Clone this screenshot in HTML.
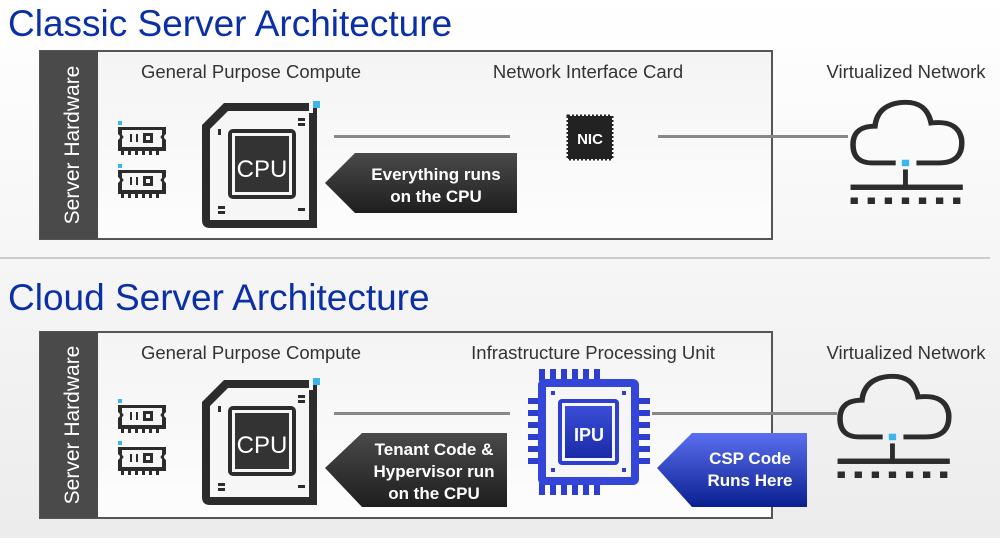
<!DOCTYPE html>
<html><head><style>
html,body{margin:0;padding:0;}
body{width:1000px;height:538px;overflow:hidden;background:linear-gradient(#ffffff,#ececec);font-family:"Liberation Sans",sans-serif;}
</style></head><body>
<svg width="1000" height="538" viewBox="0 0 1000 538" xmlns="http://www.w3.org/2000/svg" font-family="Liberation Sans, sans-serif">
<defs>
<linearGradient id="bg1" x1="0" y1="0" x2="0" y2="1"><stop offset="0" stop-color="#f4f4f4"/><stop offset="1" stop-color="#fdfdfd"/></linearGradient>
<linearGradient id="dk" x1="0" y1="0" x2="0" y2="1"><stop offset="0" stop-color="#4a4a4a"/><stop offset="1" stop-color="#1e1e1e"/></linearGradient>
<linearGradient id="bl" x1="0" y1="0" x2="0" y2="1"><stop offset="0" stop-color="#5b6ff0"/><stop offset="1" stop-color="#0a1f8f"/></linearGradient>
<linearGradient id="blc" x1="0" y1="0" x2="0" y2="1"><stop offset="0" stop-color="#3a4fd8"/><stop offset="1" stop-color="#1a2aa8"/></linearGradient>
<g id="cpu">
<path d="M22 0 H115 V125 H8 Q0 125 0 117 V22 Z" fill="#2c2c2c"/>
<path d="M26 8 H107 V117 H8 V26 Z" fill="#f6f6f6"/>
<rect x="111" y="-2" width="7" height="7" fill="#3cb4ee"/>
<rect x="107" y="0" width="4" height="10" fill="#f6f6f6"/>
<rect x="26" y="26" width="68" height="70" rx="5" fill="#2c2c2c"/>
<rect x="30" y="30" width="60" height="62" fill="#f6f6f6"/>
<rect x="33" y="33" width="54" height="56" fill="#333"/>
<rect x="16" y="26" width="3" height="6" fill="#2c2c2c"/>
<rect x="96" y="15" width="7" height="3" fill="#2c2c2c"/><rect x="96" y="20" width="7" height="3" fill="#2c2c2c"/>
<rect x="16" y="103" width="7" height="3" fill="#2c2c2c"/><rect x="16" y="108" width="7" height="3" fill="#2c2c2c"/>
<rect x="96" y="105" width="7" height="3" fill="#2c2c2c"/>
</g>
<g id="ram">
<rect x="0" y="0" width="4" height="4" fill="#3cb4ee"/>
<path d="M0 6 H48 V13 Q44 16 48 19 V30 H0 V19 Q4 16 0 13 Z" fill="#2c2c2c"/>
<path d="M4 9 H44 V14 Q41 16 44 18 V26 H4 V18 Q7 16 4 14 Z" fill="#f6f6f6"/>
<rect x="12" y="13" width="2" height="8" fill="#2c2c2c"/><rect x="18" y="13" width="2" height="8" fill="#2c2c2c"/>
<rect x="25" y="12" width="10" height="10" fill="#2c2c2c"/><rect x="28" y="15" width="4" height="4" fill="#f6f6f6"/>
<g fill="#2c2c2c"><rect x="3" y="30" width="3" height="4"/><rect x="10" y="30" width="3" height="4"/><rect x="17" y="30" width="3" height="4"/><rect x="24" y="30" width="3" height="4"/><rect x="31" y="30" width="3" height="4"/><rect x="38" y="30" width="3" height="4"/></g>
</g>
<g id="cloud">
<path d="M16 62 Q0 62 0 45 Q0 28 18 28 Q20 8 40 6 Q60 4 64 25 Q86 22 89 40 Q91 62 70 62 H52 M35 62 H16" fill="none" stroke="#2c2c2c" stroke-width="4.5"/>
<rect x="40" y="59" width="6" height="6" fill="#3cb4ee"/>
<rect x="41" y="68" width="4" height="15" fill="#2c2c2c"/>
<rect x="-2" y="82" width="92" height="5" fill="#2c2c2c"/>
<g fill="#2c2c2c"><rect x="-2" y="94" width="6" height="6"/><rect x="12" y="94" width="6" height="6"/><rect x="26" y="94" width="6" height="6"/><rect x="40" y="94" width="6" height="6"/><rect x="54" y="94" width="6" height="6"/><rect x="68" y="94" width="6" height="6"/><rect x="82" y="94" width="6" height="6"/></g>
</g>
</defs>

<text x="8" y="36" font-size="37" fill="#0b2fa6">Classic Server Architecture</text>
<rect x="40" y="51" width="732" height="188" fill="url(#bg1)" stroke="#555" stroke-width="2"/>
<rect x="40" y="51" width="58" height="188" fill="#4a4a4a"/>
<text transform="translate(79,145) rotate(-90)" text-anchor="middle" font-size="21" fill="#fff">Server Hardware</text>
<text x="251" y="78" text-anchor="middle" font-size="18.5" fill="#333">General Purpose Compute</text>
<text x="588" y="78" text-anchor="middle" font-size="18.5" fill="#333">Network Interface Card</text>
<text x="906" y="78" text-anchor="middle" font-size="18.5" fill="#333">Virtualized Network</text>
<use href="#ram" x="118" y="121"/><use href="#ram" x="118" y="164"/>
<use href="#cpu" x="202" y="103"/>
<text x="262" y="177" text-anchor="middle" font-size="24" fill="#fff">CPU</text>
<rect x="334" y="135" width="176" height="3" fill="#888"/>
<rect x="658" y="135" width="190" height="3" fill="#888"/>
<rect x="568" y="116" width="44" height="43" fill="#222" stroke="#222" stroke-dasharray="2 2" stroke-width="3"/>
<text x="590" y="144" text-anchor="middle" font-size="15" font-weight="bold" fill="#fff">NIC</text>
<path d="M325 183 L355 153 H517 V213 H355 Z" fill="url(#dk)"/>
<text x="436" y="180" text-anchor="middle" font-size="17" font-weight="bold" fill="#fff">Everything runs</text>
<text x="436" y="202" text-anchor="middle" font-size="17" font-weight="bold" fill="#fff">on the CPU</text>
<g transform="translate(853,96) scale(1.22,1.08)"><use href="#cloud"/></g>

<rect x="0" y="257" width="990" height="2" fill="#ccc"/>

<text x="8" y="310" font-size="37" fill="#0b2fa6">Cloud Server Architecture</text>
<rect x="40" y="332" width="732" height="186" fill="url(#bg1)" stroke="#555" stroke-width="2"/>
<rect x="40" y="332" width="58" height="186" fill="#4a4a4a"/>
<text transform="translate(79,425) rotate(-90)" text-anchor="middle" font-size="21" fill="#fff">Server Hardware</text>
<text x="251" y="359" text-anchor="middle" font-size="18.5" fill="#333">General Purpose Compute</text>
<text x="593" y="359" text-anchor="middle" font-size="18.5" fill="#333">Infrastructure Processing Unit</text>
<text x="906" y="359" text-anchor="middle" font-size="18.5" fill="#333">Virtualized Network</text>
<use href="#ram" x="118" y="399"/><use href="#ram" x="118" y="441"/>
<use href="#cpu" x="202" y="380"/>
<text x="262" y="453" text-anchor="middle" font-size="24" fill="#fff">CPU</text>
<rect x="334" y="412" width="176" height="3" fill="#888"/>
<rect x="652" y="412" width="185" height="3" fill="#888"/>
<path d="M325 468 L362 433 H507 V507 H362 Z" fill="url(#dk)"/>
<text x="434" y="455" text-anchor="middle" font-size="17" font-weight="bold" fill="#fff">Tenant Code &amp;</text>
<text x="434" y="477" text-anchor="middle" font-size="17" font-weight="bold" fill="#fff">Hypervisor run</text>
<text x="434" y="499" text-anchor="middle" font-size="17" font-weight="bold" fill="#fff">on the CPU</text>
<!-- IPU -->
<g fill="#2d3fd0">
<rect x="539" y="369" width="6" height="12"/><rect x="550" y="369" width="6" height="12"/><rect x="561" y="369" width="6" height="12"/><rect x="572" y="369" width="6" height="12"/><rect x="583" y="369" width="6" height="12"/><rect x="594" y="369" width="6" height="12"/>
<rect x="539" y="483" width="6" height="12"/><rect x="550" y="483" width="6" height="12"/><rect x="561" y="483" width="6" height="12"/><rect x="572" y="483" width="6" height="12"/><rect x="583" y="483" width="6" height="12"/><rect x="594" y="483" width="6" height="12"/>
<rect x="528" y="398" width="12" height="6"/><rect x="528" y="410" width="12" height="6"/><rect x="528" y="422" width="12" height="6"/><rect x="528" y="434" width="12" height="6"/><rect x="528" y="446" width="12" height="6"/><rect x="528" y="458" width="12" height="6"/>
<rect x="638" y="398" width="12" height="6"/><rect x="638" y="410" width="12" height="6"/><rect x="638" y="422" width="12" height="6"/><rect x="638" y="434" width="12" height="6"/><rect x="638" y="446" width="12" height="6"/><rect x="638" y="458" width="12" height="6"/>
</g>
<rect x="538" y="379" width="101" height="106" rx="6" fill="#3346d8"/>
<rect x="546" y="387" width="85" height="90" fill="#f6f6f6"/>
<rect x="558" y="399" width="61" height="66" rx="4" fill="#2d3fd0"/>
<rect x="562" y="403" width="53" height="58" fill="#f6f6f6"/>
<rect x="565" y="406" width="47" height="52" fill="url(#blc)"/>
<g fill="#2d3fd0"><rect x="551" y="391" width="4" height="4"/><rect x="622" y="391" width="4" height="4"/><rect x="551" y="468" width="4" height="4"/><rect x="622" y="468" width="4" height="4"/></g>
<text x="589" y="441" text-anchor="middle" font-size="18" font-weight="bold" fill="#fff">IPU</text>
<path d="M657 468 L692 433 H807 V507 H692 Z" fill="url(#bl)"/>
<text x="750" y="464" text-anchor="middle" font-size="17" font-weight="bold" fill="#fff">CSP Code</text>
<text x="750" y="486" text-anchor="middle" font-size="17" font-weight="bold" fill="#fff">Runs Here</text>
<g transform="translate(840,370) scale(1.22,1.08)"><use href="#cloud"/></g>
</svg>
</body></html>
